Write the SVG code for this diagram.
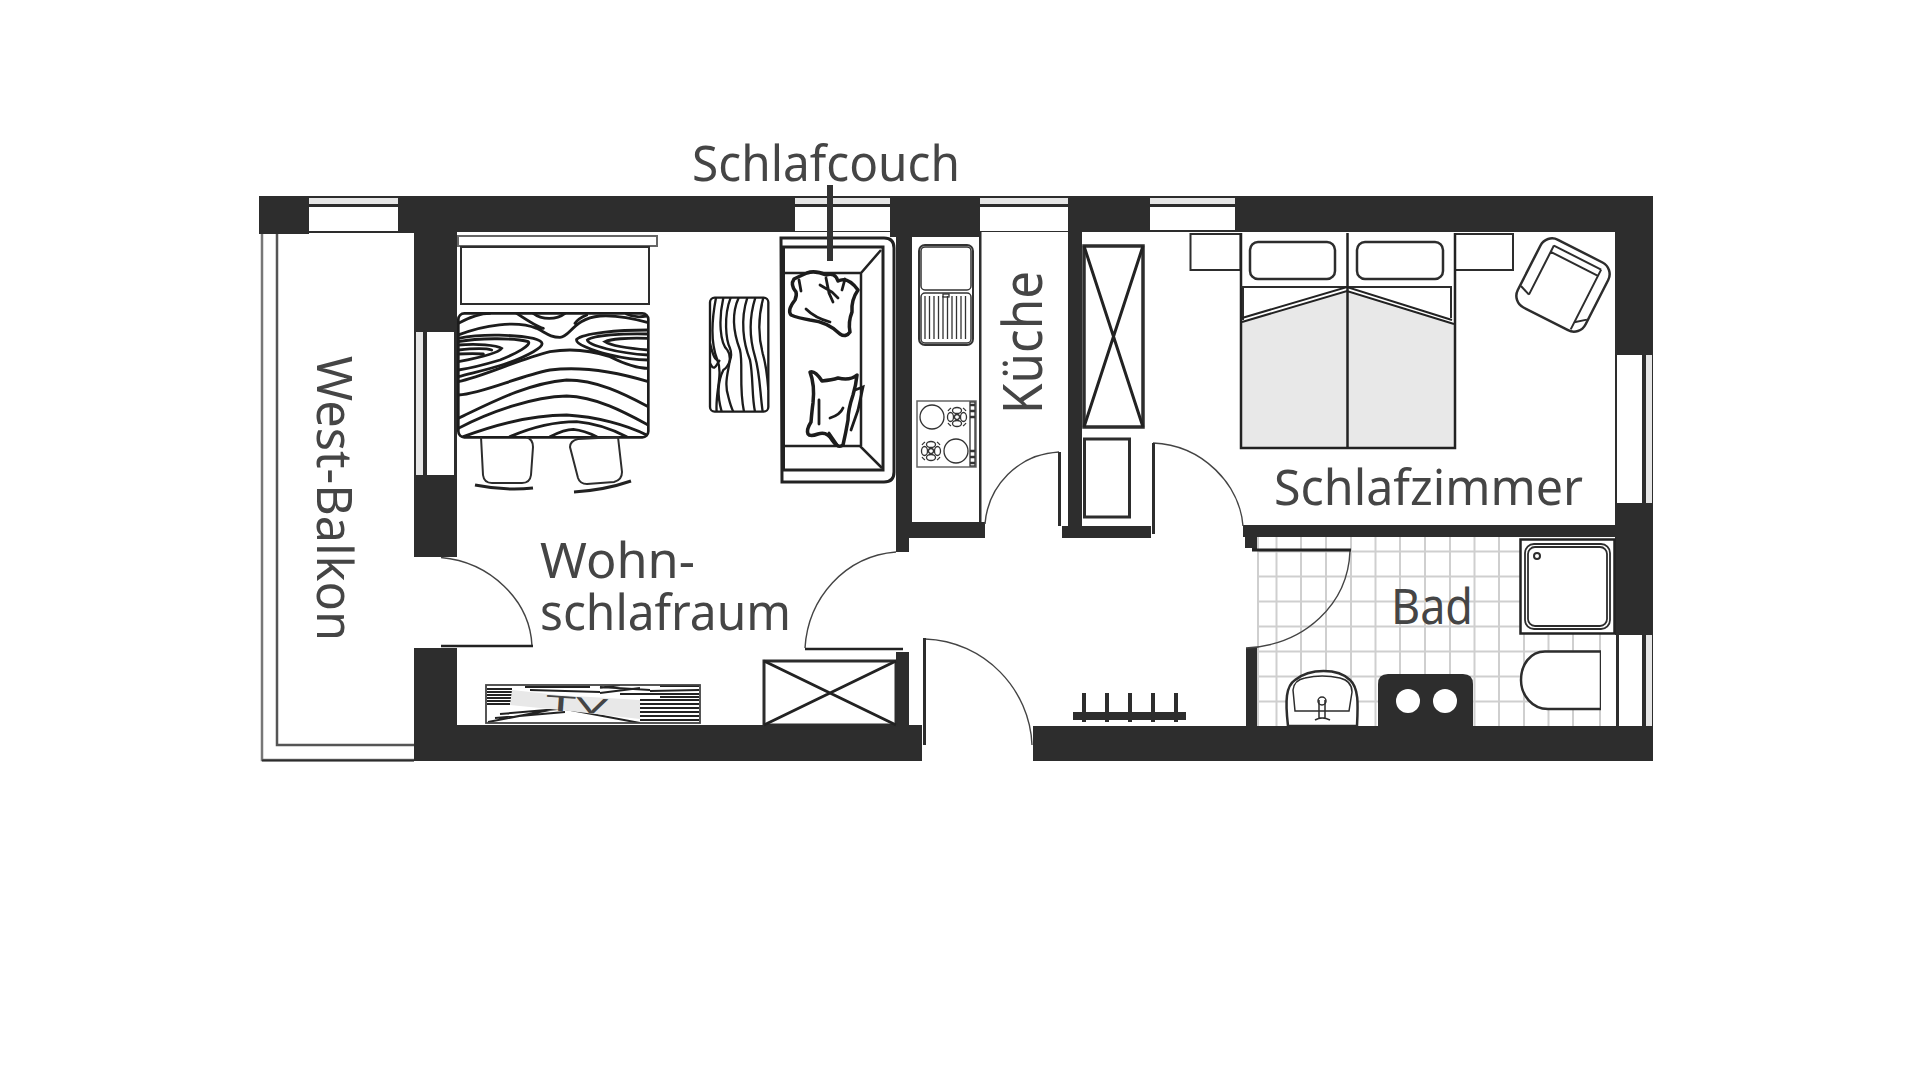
<svg xmlns="http://www.w3.org/2000/svg" width="1920" height="1080" viewBox="0 0 1920 1080">
<style>
.w{fill:#2d2d2d}
.gl{fill:#e6e6e6}
.wh{fill:#fff}
.t{font-family:"Noto Sans","Open Sans","Liberation Sans",sans-serif;fill:#454545;font-size:50px}
.l2{fill:none;stroke:#2d2d2d;stroke-width:2}
.l3{fill:#fff;stroke:#2d2d2d;stroke-width:3}
.n3{fill:none;stroke:#222;stroke-width:3}
.thin{fill:none;stroke:#333;stroke-width:1.3}
.arc{fill:none;stroke:#444;stroke-width:1.4}
.tile{stroke:#cfcfcf;stroke-width:2;fill:none}
.g1{fill:none;stroke:#1c1c1c;stroke-width:8.500;stroke-linecap:round}
.tvg{fill:none;stroke:#222;stroke-width:2}
.pil{fill:#fff;stroke:#1c1c1c;stroke-width:3.500;stroke-linejoin:round;stroke-linecap:round}
.pl{fill:none;stroke:#1c1c1c;stroke-width:2.800;stroke-linecap:round}
</style>
<defs>
<clipPath id="bedclip"><rect x="625" y="400" width="570" height="372" rx="18"/></clipPath>
<clipPath id="tblclip"><rect x="210" y="503" width="175" height="342" rx="14"/></clipPath>
<clipPath id="tvclip"><rect x="486" y="685" width="214" height="38"/></clipPath>
<g id="burner" fill="none" stroke="#333" stroke-width="1.300">
<ellipse cx="0" cy="-6.500" rx="4.500" ry="3"/><ellipse cx="0" cy="6.500" rx="4.500" ry="3"/><ellipse cx="-6.500" cy="0" rx="3" ry="4.500"/><ellipse cx="6.500" cy="0" rx="3" ry="4.500"/>
<circle r="2.500"/><path d="M-9 -6A11 11 0 0 1 -6 -9M6 -9A11 11 0 0 1 9 -6M9 6A11 11 0 0 1 6 9M-6 9A11 11 0 0 1 -9 6"/>
</g>
</defs>
<rect width="1920" height="1080" fill="#fff"/>

<g id="balcony">
<path d="M262 233V760H414" style="fill:none;stroke:#777;stroke-width:2.500"/>
<path d="M277 233V745H414" style="fill:none;stroke:#555;stroke-width:2.500"/>
<path d="M262 760.500H414" class="l2"/>
</g>

<g id="walls">
<rect class="w" x="259" y="196" width="1394" height="36"/>
<rect class="w" x="259" y="230" width="50" height="4"/>
<rect class="w" x="309" y="230" width="105" height="3"/>
<rect class="w" x="414" y="230" width="43" height="102"/>
<rect class="w" x="414" y="475" width="43" height="82"/>
<rect class="w" x="414" y="648" width="43" height="113"/>
<rect class="w" x="414" y="725" width="508" height="36"/>
<rect class="w" x="896" y="230" width="16" height="308"/>
<rect class="w" x="896" y="538" width="13" height="14"/>
<rect class="w" x="890" y="230" width="90" height="7"/>
<rect class="w" x="912" y="522" width="73" height="16"/>
<rect class="w" x="1068" y="230" width="14" height="296"/>
<rect class="w" x="1062" y="526" width="89" height="12"/>
<rect class="w" x="896" y="652" width="13" height="74"/>
<rect class="w" x="1033" y="726" width="620" height="35"/>
<rect class="w" x="1615" y="196" width="38" height="160"/>
<rect class="w" x="1615" y="502" width="38" height="134"/>
<rect class="w" x="1243" y="525" width="372" height="12"/>
<rect class="w" x="1245" y="537" width="13" height="11"/>
<rect class="w" x="1252" y="548" width="6" height="3"/>
<rect class="w" x="1246" y="648" width="12" height="80"/>
<rect class="w" x="979" y="232" width="2.500" height="292"/>
</g>

<g id="windows">
<g>
<rect class="gl" x="309" y="198" width="89" height="6"/><rect class="wh" x="309" y="207" width="89" height="24"/>
<rect class="gl" x="795" y="198" width="95" height="6"/><rect class="wh" x="795" y="207" width="95" height="24"/>
<rect class="gl" x="980" y="198" width="88" height="6"/><rect class="wh" x="980" y="207" width="88" height="24"/>
<rect class="gl" x="1150" y="198" width="85" height="6"/><rect class="wh" x="1150" y="207" width="85" height="23"/>
</g>
<g>
<rect class="w" x="414" y="332" width="43" height="143"/>
<rect class="gl" x="416" y="332" width="7" height="143"/><rect class="wh" x="427" y="332" width="27" height="143"/>
<rect class="w" x="1615" y="355" width="38" height="148"/>
<rect class="wh" x="1617" y="355" width="25" height="148"/><rect class="gl" x="1646" y="355" width="6" height="148"/>
</g>
</g>

<g id="bath-tiles">
<path class="tile" d="M1276.500 537V726M1301 537V726M1326 537V726M1351 537V726M1375.500 537V726M1400 537V726M1425 537V726M1450 537V726M1474.500 537V726M1499 537V726M1524 634V726M1548.500 634V726M1573 634V726M1600 634V726M1258 537V726"/>
<path class="tile" d="M1258 551.500H1520M1258 576.500H1520M1258 601.500H1520M1258 626.500H1520M1258 651.500H1600M1258 676.500H1600M1258 701.500H1600"/>
</g>

<g id="doors">
<path class="arc" d="M441 557.500C490 562 530 600 532 646"/>
<path d="M441 646H533" class="n3" style="stroke-width:2.500"/>
<path class="arc" d="M896 552C845 556 808 598 805 648"/>
<path d="M805 649H903" class="n3" style="stroke-width:2.500"/>
<path class="arc" d="M925 639C985 641 1030 690 1032 745"/>
<rect class="w" x="923" y="638" width="3" height="107"/>
<path class="arc" d="M1059 452C1018 454 988 486 985 524"/>
<rect class="w" x="1058" y="452" width="3" height="74"/>
<path class="arc" d="M1153 443C1203 445 1240 485 1243 526"/>
<rect class="w" x="1152" y="443" width="3" height="91"/>
<path class="arc" d="M1350 551C1348 604 1305 645 1246 648"/>
<path d="M1252 550H1351" class="n3"/>
</g>

<g id="wohn-bed">
<rect x="458" y="236" width="199" height="10" style="fill:#fff;stroke:#666;stroke-width:2"/>
<rect x="461" y="247" width="188" height="57" class="l2" fill="#fff"/>
<g transform="translate(250 180) scale(.33333)">
<g clip-path="url(#bedclip)">
<path class="g1" d="M625 430Q680 400 720 400M625 465C700 435 800 420 860 445C890 460 900 472 930 472C960 472 970 415 1050 408C1100 405 1150 415 1195 428M800 400C830 420 860 440 880 445M975 430Q985 415 1010 405M850 400C875 420 920 420 945 400"/>
<path class="g1" d="M625 475C700 460 800 465 850 475C885 485 885 495 850 515C780 555 700 570 625 590M625 485C680 475 790 472 835 485C845 495 800 520 750 540C700 555 660 565 625 570M625 495C680 490 740 495 755 505C745 520 680 535 625 545M625 510C670 505 710 505 725 510M625 522C660 520 680 520 700 522"/>
<path class="g1" d="M625 605C700 590 800 540 900 515C960 505 1020 510 1080 530C1120 550 1160 565 1195 565M1195 450C1100 450 1000 460 980 478C975 490 1020 510 1080 525C1120 535 1160 540 1195 540M1195 462C1120 460 1030 465 1012 480C1015 495 1100 520 1195 525M1195 475C1130 472 1080 478 1065 485C1080 495 1130 505 1195 510"/>
<path class="g1" d="M625 645C700 640 800 590 900 570C980 560 1080 570 1195 605M625 715C720 670 830 610 950 600C1040 600 1120 640 1195 680M625 745C720 695 850 650 950 648C1040 650 1130 700 1195 735M640 770C720 740 830 705 950 705C1040 710 1130 735 1190 765M780 770C850 740 920 725 980 725C1040 730 1090 750 1130 770M900 770C930 755 950 748 970 748C990 750 1020 760 1040 770M1130 402C1150 412 1170 412 1190 408"/>
</g>
<rect x="625" y="400" width="570" height="372" rx="18" fill="none" stroke="#1c1c1c" stroke-width="8"/>
</g>
</g>

<g id="stools">
<path class="l2" d="M481 437L483 475Q484 483 492 483H522Q530 483 531 475L533 447Q533 439 526 437"/>
<path class="n3" d="M475 485Q505 491 533 488"/>
<path class="l2" d="M570 447Q570 441 578 439L618 437L622 472Q622 480 614 482L587 484Q580 484 578 478Z"/>
<path class="n3" d="M574 492Q605 490 631 481"/>
</g>

<g id="table">
<g transform="translate(640 130) scale(.33333)">
<g clip-path="url(#tblclip)" fill="none" stroke="#1c1c1c" stroke-width="7">
<path d="M228 503C215 570 212 640 232 690C250 730 225 790 230 845"/>
<path d="M250 503C235 570 240 640 262 660C285 690 245 740 265 800C270 820 275 835 280 845"/>
<path d="M272 503C250 560 258 630 270 655C280 680 265 710 250 720C230 760 235 810 245 845"/>
<path d="M296 503C270 560 285 620 300 660C310 700 296 770 312 845"/>
<path d="M322 503C300 570 310 640 330 690C340 740 335 800 345 845"/>
<path d="M346 503C325 570 330 630 345 680C360 730 360 790 368 845"/>
<path d="M370 503C352 570 355 620 368 670C380 710 382 740 385 780"/>
<path d="M210 700C225 730 230 700 240 690M210 640C220 680 225 690 235 690"/>
</g>
<rect x="210" y="503" width="175" height="342" rx="14" fill="none" stroke="#1c1c1c" stroke-width="7"/>
</g>
</g>

<g id="couch">
<path class="n3" style="fill:#fff" d="M781 238H884Q894 238 894 248V472Q894 482 884 482H782Z"/>
<path class="n3" d="M783.500 247H883V470H783.500Z"/>
<path class="n3" style="stroke-width:2.500" d="M783 273H861L881 250M861 273V446M783 446H860L882 468"/>
<path class="pil" d="M807 273Q815 270 826 275Q835 272 838 281Q848 276 858 290Q851 300 852 312Q848 322 850 332Q846 338 840 334Q828 322 810 320Q798 318 791 315Q787 310 795 300Q797 295 796 292Q790 285 794 279Q800 276 807 273Z"/>
<path class="pl" d="M806 309Q815 318 830 322M826 278L829 293L833 302M820 285L832 292L838 298M845 279L842 290M799 280L801 291"/>
<path class="pil" d="M810 372Q815 370 822 381Q832 380 838 378Q850 381 857 375Q856 385 853 395Q848 410 848 420Q846 432 843 445Q838 449 832 440Q827 431 818 434Q810 437 808 434Q806 430 811 422Q812 410 813 403Q815 385 810 372Z"/>
<path class="pl" d="M855 390L863 387L858 410L851 430M819 400V424M830 418Q840 415 843 408M829 433L838 446"/>
<rect x="827" y="185" width="6" height="76" fill="#333"/>
</g>

<g id="kitchen">
<rect class="thin" style="stroke-width:2" x="919" y="245" width="54" height="100" rx="6" fill="#fff"/>
<rect class="thin" style="stroke-width:1.500" x="921" y="247" width="50" height="43" rx="4"/>
<rect class="thin" style="stroke-width:1.500" x="921" y="293" width="50" height="50" rx="4"/>
<path class="thin" d="M925 296V339M929.500 296V339M934 296V339M938.500 296V339M943 296V339M947.500 296V339M952 296V339M956.500 296V339M961 296V339M965.500 296V339"/>
<rect class="thin" x="943" y="294" width="6" height="3"/>
<rect x="917" y="401" width="59" height="66" fill="#fff" stroke="#666" stroke-width="1.500"/>
<circle class="thin" cx="932" cy="417" r="12"/><circle class="thin" cx="956" cy="451" r="12"/>
<use href="#burner" x="957" y="417"/><use href="#burner" x="931" y="451"/>
<rect class="thin" x="970" y="402" width="5" height="64"/>
<path d="M970 405H975M970 411H975M970 417H975M970 451H975M970 457H975M970 463H975" stroke="#333" stroke-width="2.500" fill="none"/>
</g>

<g id="closets">
<g id="closet1"><rect class="l3" x="764" y="661" width="132" height="64"/><path class="n3" d="M764 661L896 725M764 725L896 661"/></g>
<g id="closet2"><rect class="l3" style="stroke-width:3.500" x="1084" y="246" width="59" height="181"/><path class="n3" d="M1084 246L1143 427M1084 427L1143 246"/></g>
<rect class="l3" x="1084.500" y="439" width="45" height="78"/>
</g>

<g id="tv">
<rect x="486" y="685" width="214" height="38" fill="#fff"/>
<g clip-path="url(#tvclip)">
<path class="tvg" d="M487 689H512M487 692H512M487 695H512M487 698H512M487 701H511M487 704H510M640 700H699M640 704H699M640 708H699M640 712H699M640 716H699M640 720H699M488 722L560 708L640 723M500 714L570 708M495 718L565 712M600 687L650 690M620 694H699M660 697H699M525 687H590M530 690L600 692M600 693L640 688M660 686H699M650 691L699 690M600 688L620 685"/>
</g>
<path fill="#e8e8e8" d="M512 690L558 695L640 700V719L560 710L510 705Z"/>
<rect x="486" y="685" width="214" height="38" fill="none" stroke="#444" stroke-width="1.800"/>
<text x="546" y="712" transform="rotate(4 575 705)" style="font-family:'Noto Sans','Liberation Sans',sans-serif;font-size:21px;fill:#444" textLength="62" lengthAdjust="spacingAndGlyphs">TV</text>
</g>

<g id="rack">
<rect class="w" x="1073" y="712" width="113" height="8"/>
<path d="M1084 693V722M1107 693V722M1130 693V722M1153 693V722M1176 693V722" stroke="#2d2d2d" stroke-width="4" fill="none"/>
</g>

<g id="bedroom">
<rect class="l2" x="1190.500" y="234" width="50" height="36"/>
<rect class="l2" x="1455" y="234" width="58" height="36"/>
<rect x="1241" y="233" width="214" height="215" fill="#fff"/>
<path fill="#e8e8e8" d="M1241 322L1347 291L1454 324V447H1241Z"/>
<path class="n3" style="stroke-width:2.500" d="M1241 233V448H1455V233M1347.500 233V448"/>
<path class="l2" d="M1241 287H1451V318M1243 287V320"/>
<path class="n3" style="stroke-width:2" d="M1242 318L1347 287L1452 320M1242 322L1347 291L1454 324"/>
<rect class="l2" style="stroke-width:2.500" x="1250" y="242" width="85" height="37" rx="8"/>
<rect class="l2" style="stroke-width:2.500" x="1357" y="242" width="86" height="37" rx="8"/>
</g>

<g id="armchair" transform="translate(1563 285) rotate(27)">
<rect class="l3" style="stroke-width:2.500" x="-38" y="-38" width="76" height="76" rx="13"/>
<path class="l2" d="M-26 -31V24M-26 -31L27 -31M-26 -24H27M27 -31V36M-26 24L-37 20M27 28L37 20"/>
</g>

<g id="shower">
<rect x="1520.500" y="539.500" width="94" height="94" fill="#fff" stroke="#222" stroke-width="2.500"/>
<rect class="l2" x="1525" y="544" width="85" height="85" rx="9" style="stroke-width:1.800"/>
<rect class="l2" x="1528" y="547" width="79" height="79" rx="7" style="stroke-width:1.800"/>
<circle class="l2" cx="1537" cy="556" r="3"/>
</g>
<g id="toilet"><path class="l3" style="stroke-width:2.500" d="M1601 651.500H1545C1530 651.500 1521 665 1521 680C1521 695 1532 709 1548 709H1601Z"/></g>
<g id="bath-window">
<rect class="wh" x="1601" y="635" width="15" height="91"/><rect class="wh" x="1619" y="635" width="23" height="91"/><rect class="w" x="1616" y="635" width="3" height="91"/>
<rect class="w" x="1642" y="635" width="11" height="91"/><rect class="gl" x="1646" y="635" width="6" height="91"/>
</g>
<g id="sink">
<path class="l3" style="stroke-width:2.500" d="M1288 726C1285 700 1286 686 1295 680C1310 668 1338 668 1350 680C1359 688 1358 705 1357 726Z"/>
<path class="l2" style="stroke-width:1.500" d="M1295 711L1293 690Q1294 680 1305 678Q1322 674 1340 678Q1352 681 1352 692L1349 711Z"/>
<path class="l2" style="stroke-width:1.500" d="M1319 700V718H1325V700M1315 720Q1322 716 1330 720"/><circle class="l2" style="stroke-width:1.500" cx="1322" cy="701" r="4"/>
</g>
<g id="radiator">
<path class="w" d="M1378 726V684Q1378 674 1388 674H1463Q1473 674 1473 684V726Z"/>
<circle class="wh" cx="1408" cy="701" r="12"/><circle class="wh" cx="1445" cy="701" r="12"/>
</g>

<g id="labels">
<text class="t" x="692" y="181" textLength="268" lengthAdjust="spacingAndGlyphs">Schlafcouch</text>
<text class="t" x="540" y="578" textLength="155" lengthAdjust="spacingAndGlyphs">Wohn-</text>
<text class="t" x="540" y="630" textLength="251" lengthAdjust="spacingAndGlyphs">schlafraum</text>
<text class="t" style="font-size:54px" transform="translate(1042 414) rotate(-90)" textLength="143" lengthAdjust="spacingAndGlyphs">Küche</text>
<text class="t" transform="translate(317 356) rotate(90)" textLength="285" lengthAdjust="spacingAndGlyphs">West-Balkon</text>
<text class="t" x="1274" y="505" textLength="309" lengthAdjust="spacingAndGlyphs">Schlafzimmer</text>
<text class="t" x="1391" y="624" textLength="82" lengthAdjust="spacingAndGlyphs">Bad</text>
</g>
</svg>
